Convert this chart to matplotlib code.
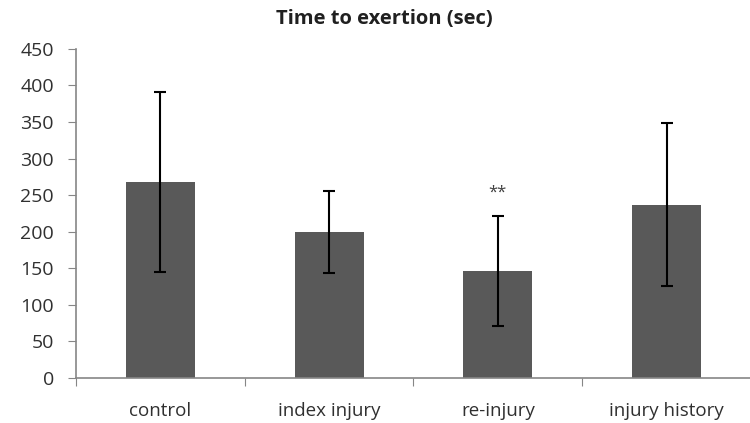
import matplotlib
matplotlib.use("Agg")
import matplotlib.pyplot as plt
import numpy as np

categories = ["control", "index injury", "re-injury", "injury history"]
means = [268, 200, 146, 237]
errors = [123, 56, 75, 111]
annotations = ["", "", "**", ""]
yticks = [0, 50, 100, 150, 200, 250, 300, 350, 400, 450]

plt.rcParams['font.family'] = ['Open Sans', 'DejaVu Sans']

fig = plt.figure(figsize=(7.5, 4.23), dpi=100)
ax = fig.add_axes([0.1013, 0.1064, 0.9, 0.778])

x = np.arange(len(categories))
ax.bar(x, means, width=0.41, color="#595959", zorder=2)
ax.errorbar(x, means, yerr=errors, fmt="none", ecolor="black", elinewidth=1.5,
            capsize=4.5, capthick=1.5, zorder=3)
for xi, m, e, a in zip(x, means, errors, annotations):
    if a:
        ax.text(xi, m + e + 22, a, ha="center", va="bottom", fontsize=12, color="#404040")

ax.set_xlim(-0.5, 3.5)
ax.set_ylim(0, 450)
ax.set_yticks(yticks)
ax.set_yticklabels([str(t) for t in yticks], fontsize=14, color="#303030")
ax.set_xticks(np.arange(-0.5, 3.6, 1.0))
ax.set_xticklabels([])
ax.set_xticks(x, minor=True)
ax.set_xticklabels(categories, minor=True, fontsize=13.5, color="#303030")
ax.tick_params(axis="x", which="minor", length=0, pad=17)
ax.tick_params(axis="x", which="major", length=6, color="#868686", direction="out")
ax.tick_params(axis="y", length=6, color="#868686", direction="out", pad=10)

for s in ["top", "right"]:
    ax.spines[s].set_visible(False)
for s in ["left", "bottom"]:
    ax.spines[s].set_color("#868686")
    ax.spines[s].set_linewidth(1.2)

fig.text(0.512, 0.955, "Time to exertion (sec)", ha="center", va="center",
         fontsize=14.5, fontweight="bold", color="#202020")

fig.savefig("out.png", dpi=100)
